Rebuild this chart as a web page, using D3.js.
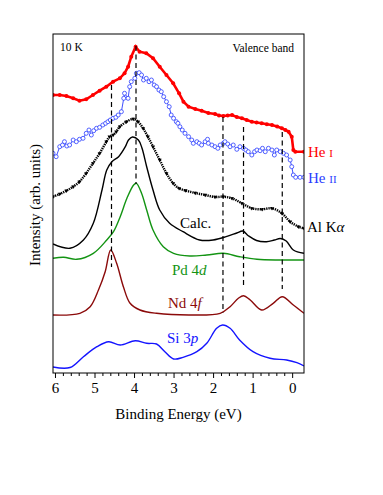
<!DOCTYPE html>
<html><head><meta charset="utf-8">
<script src="https://cdn.jsdelivr.net/npm/d3@7"></script>
<style>
body{margin:0;background:#fff}
svg text{font-family:"Liberation Serif","DejaVu Serif",serif;fill:#000}
</style></head>
<body><div id="chart"></div>
<script>
// [binding energy (eV), intensity (arb. units, offset stack)]
const heI = [[6.05,273],[5.88,273],[5.71,272],[5.54,269.7],[5.38,267.3],[5.21,268.7],[5.04,273],[4.87,277.3],
  [4.70,281.3],[4.53,286.3],[4.36,289.7],[4.24,294.7],[4.15,301.3],[4.07,311.3],[3.96,321.3],[3.86,316.3],
  [3.69,314.7],[3.52,309.7],[3.35,301.3],[3.18,293],[3.01,284.7],[2.86,274.7],[2.75,266.3],[2.62,261.3],
  [2.45,259],[2.29,257.3],[2.12,255],[1.95,254],[1.85,252.5],[1.74,252],[1.63,252.5],[1.52,253],[1.40,251],
  [1.27,249.7],[1.15,248],[1.02,246.3],[0.90,245.5],[0.77,244.7],[0.64,243.8],[0.51,243],[0.38,241.5],
  [0.26,239.7],[0.17,238],[0.09,236.3],[0.01,231.3],[-0.03,218],[-0.08,216.3],[-0.30,216.3]];

const heII = [[6.05,214.7],[5.97,211.3],[5.88,221.3],[5.81,223],[5.76,226.3],[5.70,222],[5.63,223],[5.54,228],
  [5.46,226.3],[5.38,228.7],[5.29,229.7],[5.21,234.7],[5.14,238],[5.08,233],[5.02,237.3],[4.95,239.7],
  [4.87,240.7],[4.79,243],[4.72,244.7],[4.66,246.3],[4.60,248],[4.53,249.7],[4.46,250.7],[4.40,253],
  [4.32,256.3],[4.26,269.7],[4.24,274.7],[4.15,269.7],[4.11,281.3],[4.07,286.3],[3.98,289.7],[3.94,294.7],
  [3.87,295.3],[3.81,293],[3.76,288],[3.69,289.7],[3.62,286.3],[3.56,288],[3.49,283],[3.43,281.3],
  [3.37,278],[3.31,276.3],[3.25,271.3],[3.18,266.3],[3.11,261.3],[3.06,253],[3.00,249.7],[2.93,246.3],
  [2.89,244.7],[2.84,241.3],[2.78,238],[2.71,234.7],[2.62,231.3],[2.54,228],[2.50,224.7],[2.41,226.3],
  [2.35,224.7],[2.29,223],[2.20,226.3],[2.14,228.7],[2.12,224.7],[2.03,223],[1.95,221.3],[1.88,219.7],
  [1.82,223],[1.74,224.7],[1.70,226.3],[1.63,224],[1.57,221.3],[1.49,223],[1.40,218.7],[1.32,221.3],
  [1.23,219.7],[1.17,218],[1.11,216.3],[1.02,213],[0.95,216.3],[0.89,218],[0.81,217.3],[0.75,219.7],
  [0.68,216.3],[0.60,219.7],[0.51,218],[0.45,213],[0.39,218],[0.30,216.3],[0.22,214.7],[0.14,213],
  [0.05,208],[0.01,201.3],[-0.03,193],[-0.09,190.7],[-0.20,190.7],[-0.30,190.7]];

const alKa = [[6.05,171.3],[5.88,174],[5.71,177.3],[5.54,181.3],[5.38,186.3],[5.21,194.7],[5.04,204.7],
  [4.87,214.7],[4.70,226.3],[4.62,231.3],[4.53,233],[4.45,236.3],[4.36,241.3],[4.19,246.3],[4.02,249],
  [3.90,246.3],[3.77,239.7],[3.65,231.3],[3.52,221.3],[3.35,208],[3.18,194.7],[3.01,184.7],[2.86,179.7],
  [2.70,177.5],[2.45,175],[2.20,173],[1.95,171],[1.74,171.3],[1.52,169.7],[1.27,164.7],[1.02,159.7],
  [0.76,158.7],[0.51,159.7],[0.26,154.7],[0.05,146.3],[-0.16,141.3],[-0.30,139.7]];

const calc = [[6.05,124],[5.62,119.7],[5.28,128],[5.03,144.7],[4.81,178],[4.69,198],[4.56,206.3],[4.39,211.3],
  [4.22,221.3],[4.14,228],[4.04,231],[3.89,228],[3.80,220],[3.68,201.3],[3.52,178],[3.35,158],[3.10,144.7],
  [2.76,136.3],[2.34,128],[2.00,128],[1.67,131.3],[1.40,135],[1.25,137],[1.10,132],[0.90,127.5],[0.65,126.3],
  [0.45,128],[0.30,129.5],[0.15,127],[-0.03,118],[-0.30,114.7]];

const pd4d = [[6.05,109.7],[5.78,110.7],[5.45,108.7],[5.03,114.7],[4.69,128],[4.52,136.3],[4.35,151.3],
  [4.18,169.7],[4.01,183],[3.94,184.7],[3.81,174.7],[3.68,158],[3.52,138],[3.26,121.3],[3.00,114.7],
  [2.59,112],[2.16,113],[1.74,114.7],[1.33,111.3],[0.89,108.7],[0.31,108],[-0.30,108]];

const nd4f = [[6.05,53],[5.37,54.7],[5.11,61.3],[4.90,78],[4.73,96.3],[4.59,118],[4.44,104.7],[4.27,81.3],
  [4.10,64.7],[3.85,58],[3.43,54.7],[2.59,53],[1.82,54.7],[1.57,61.3],[1.36,69.7],[1.23,72.3],[1.06,68],
  [0.77,58],[0.48,64.7],[0.25,71.3],[-0.03,63],[-0.30,54.7]];

const si3p = [[6.05,1],[5.62,0.5],[5.28,11.3],[4.94,21.3],[4.64,26.3],[4.35,23],[3.97,27.3],[3.68,24.7],
  [3.43,24],[3.22,16.3],[3.00,9],[2.76,10.7],[2.41,16.3],[2.16,24.7],[1.91,39.7],[1.76,43],[1.57,39.7],
  [1.33,28],[0.99,16.3],[0.56,9.7],[0.14,8],[-0.12,5.3],[-0.30,2]];

// dashed guides: [eV, top, bottom]
const guides = [[4.57,283,101],[3.95,322,184],[1.75,251,55],[1.23,241,83],[0.25,236,79]];

const xTicks = [6,5,4,3,2,1,0];

const W = 383, H = 495;
const m = {l:53, r:79, t:34, b:122};
const x = d3.scaleLinear().domain([6.05,-0.30]).range([m.l, W-m.r]);
const y = d3.scaleLinear().domain([-5,334]).range([H-m.b, m.t]);

const svg = d3.select('#chart').append('svg').attr('width',W).attr('height',H);
svg.append('clipPath').attr('id','clip').append('rect')
  .attr('x',m.l).attr('y',m.t).attr('width',W-m.l-m.r).attr('height',H-m.t-m.b);
const g = svg.append('g').attr('clip-path','url(#clip)');

const lin = d3.line().x(d=>x(d[0])).y(d=>y(d[1]));
const smooth = d3.line().x(d=>x(d[0])).y(d=>y(d[1])).curve(d3.curveCatmullRom.alpha(0.5));

// calculated curves
[[si3p,'#1414ff'],[nd4f,'#8b0a0a'],[pd4d,'#139413'],[calc,'#000']].forEach(([d,c]) =>
  g.append('path').datum(d).attr('d',smooth).attr('fill','none').attr('stroke',c).attr('stroke-width',1.4));

// Al K alpha
g.append('path').datum(alKa).attr('d',smooth).attr('fill','none').attr('stroke','#000')
  .attr('stroke-width',2.4).attr('stroke-dasharray','1.3,0.9');
g.selectAll('path.tri').data(alKa).join('path').attr('class','tri')
  .attr('d',d3.symbol(d3.symbolTriangle).size(7)).attr('fill','#000')
  .attr('transform',d=>`translate(${x(d[0])},${y(d[1])}) rotate(180)`);

// He II
g.append('path').datum(heII).attr('d',lin).attr('fill','none').attr('stroke','#2a3cff').attr('stroke-width',0.9);
g.selectAll('circle.h2').data(heII).join('circle').attr('class','h2')
  .attr('cx',d=>x(d[0])).attr('cy',d=>y(d[1])).attr('r',2)
  .attr('fill','#fff').attr('stroke','#2a3cff').attr('stroke-width',0.8);

// He I
g.append('path').datum(heI).attr('d',lin).attr('fill','none').attr('stroke','#ff0000').attr('stroke-width',2.6);
g.selectAll('circle.h1').data(heI).join('circle').attr('class','h1')
  .attr('cx',d=>x(d[0])).attr('cy',d=>y(d[1])).attr('r',2).attr('fill','#ff0000');

// guides
g.selectAll('line.guide').data(guides).join('line').attr('class','guide')
  .attr('x1',d=>x(d[0])).attr('x2',d=>x(d[0])).attr('y1',d=>y(d[1])).attr('y2',d=>y(d[2]))
  .attr('stroke','#000').attr('stroke-width',1.2).attr('stroke-dasharray','5,3.5');

// frame + axis
svg.append('rect').attr('x',m.l).attr('y',m.t).attr('width',W-m.l-m.r).attr('height',H-m.t-m.b)
  .attr('fill','none').attr('stroke','#000').attr('stroke-width',1);
const minor = d3.range(0, 61, 2).map(v=>v/10).filter(v=>!xTicks.includes(v));
svg.append('g').attr('transform',`translate(0,${H-m.b})`)
  .call(d3.axisBottom(x).tickValues(minor).tickSize(3).tickFormat(''))
  .call(a=>a.select('.domain').remove());
svg.append('g').attr('transform',`translate(0,${H-m.b})`)
  .call(d3.axisBottom(x).tickValues(xTicks).tickSize(5).tickPadding(4).tickFormat(d3.format('d')))
  .call(a=>a.select('.domain').remove())
  .call(a=>a.selectAll('text').attr('font-size',15).style('font-family','"Liberation Serif",serif'));

svg.append('text').attr('x',(m.l+W-m.r)/2).attr('y',419).attr('text-anchor','middle')
  .attr('font-size',15).text('Binding Energy (eV)');
svg.append('text').attr('transform','translate(40,205) rotate(-90)').attr('text-anchor','middle')
  .attr('font-size',15).text('Intensity (arb. units)');

svg.append('text').attr('x',60).attr('y',51).attr('font-size',11.5).text('10 K');
svg.append('text').attr('x',294).attr('y',52).attr('text-anchor','end').attr('font-size',11.5).text('Valence band');

// series labels
function label(xp, yp, color, main, tail, italic) {
  const t = svg.append('text').attr('x',xp).attr('y',yp).attr('font-size',15).style('fill',color);
  t.append('tspan').text(main);
  const s = t.append('tspan').text(tail);
  if (italic) s.attr('font-style','italic'); else s.attr('font-size',11);
}
label(308,157,'#ff0000','He ','I',false);
label(308,183,'#2a3cff','He ','II',false);
label(307,232,'#000','Al K','α',true);
label(180,228,'#000','Calc.','',true);
label(172,275,'#139413','Pd 4','d',true);
label(168,308,'#8b0a0a','Nd 4','f',true);
label(167,343,'#1414ff','Si 3','p',true);
</script>
</body></html>
